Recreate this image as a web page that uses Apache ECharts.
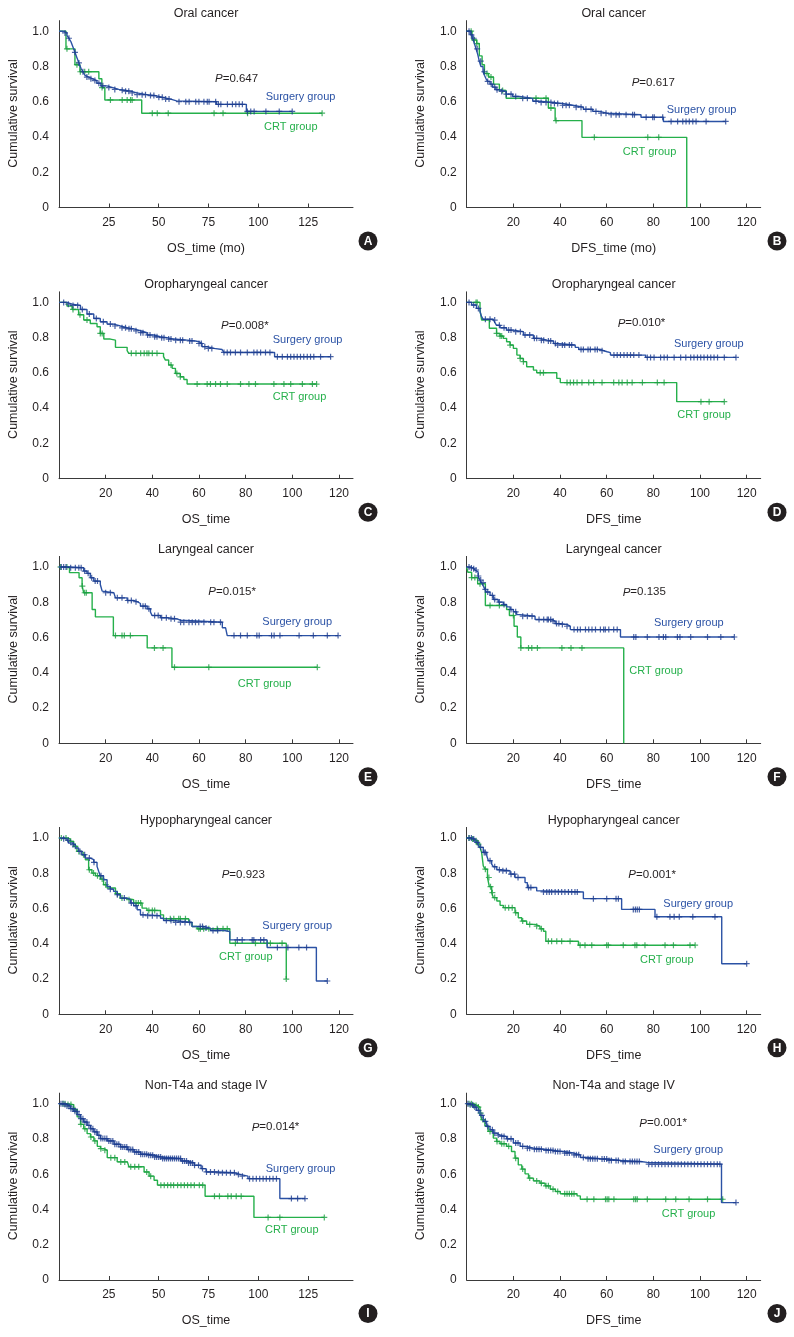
<!DOCTYPE html>
<html><head><meta charset="utf-8">
<script src="https://cdn.jsdelivr.net/npm/echarts@6/dist/echarts.min.js"></script>
<style>html,body{margin:0;padding:0;background:#fff}#c{width:794px;height:1337px}</style>
</head><body><div id="c"></div>
<script>
// ---------- DATA ----------
const panelLetters = ['A','B','C','D','E','F','G','H','I','J'];
const panelTitles = ['Oral cancer','Oral cancer','Oropharyngeal cancer','Oropharyngeal cancer','Laryngeal cancer','Laryngeal cancer','Hypopharyngeal cancer','Hypopharyngeal cancer','Non-T4a and stage IV','Non-T4a and stage IV'];
const xAxisNames = ['OS_time (mo)','DFS_time (mo)','OS_time','DFS_time','OS_time','DFS_time','OS_time','DFS_time','OS_time','DFS_time'];
const pValues = ['0.647','0.617','0.008*','0.010*','0.015*','0.135','0.923','0.001*','0.014*','0.001*'];
const xTicks25 = [25,50,75,100,125];
const xTicks20 = [20,40,60,80,100,120];
const yTicks = [0,0.2,0.4,0.6,0.8,1.0];
const groupNames = ['Surgery group','CRT group'];

// step points [time, survival]
const A_surg = [[0,1],[2,0.99],[4,0.975],[5,0.96],[6,0.94],[7,0.91],[8,0.88],[9,0.85],[10,0.82],[11,0.79],[12,0.77],[13,0.75],[14,0.74],[15,0.73],[17,0.72],[19,0.705],[21,0.69],[24,0.68],[27,0.67],[30,0.665],[33,0.66],[36,0.65],[39,0.64],[44,0.635],[48,0.625],[52,0.615],[56,0.605],[59,0.6],[79,0.585],[94,0.545],[117,0.545]];
const A_surg_cens = [3,5,8,10,12,14,16,18,20,22,25,28,31.7,33.4,35,36.7,39.2,41.7,43.4,45.9,47.6,50.1,51.8,53.5,55.2,60.2,63.6,65.3,68.6,70.2,72.7,74.4,75.3,78.6,80,81.2,84.5,87,88.7,90.4,92,94.5,96.2,97.9,103.8,110.5,117];
const A_crt = [[0,1],[3.5,0.9],[8,0.81],[10.5,0.77],[20,0.73],[21.5,0.68],[23,0.61],[41.5,0.535],[132,0.535]];
const A_crt_cens = [4,9,10.7,12.9,14.9,21.6,25.8,31.7,34.2,35.9,36.7,46.8,49.3,54.8,77.8,82.3,94.6,132];

const B_surg = [[0,1],[1.5,0.98],[2.5,0.96],[3.3,0.93],[4,0.9],[4.7,0.87],[5.4,0.83],[6.1,0.8],[7,0.77],[7.6,0.75],[8.3,0.73],[9,0.715],[10,0.7],[11.1,0.683],[12.5,0.668],[14,0.658],[16.9,0.643],[19.7,0.63],[22.6,0.619],[28.3,0.603],[31,0.596],[37,0.59],[41,0.58],[45.4,0.569],[50,0.557],[54,0.545],[57,0.535],[60,0.526],[74.7,0.512],[84.3,0.488],[111,0.488]];
const B_surg_cens = [1,2,3,4.5,6,7.5,9,10.5,12,13,15,17,19,21,24,26,29.7,31.9,34,36.1,37.6,39,41.1,42.6,44,46.9,49,51.1,53.3,55.4,57.6,59.7,61.9,64,65.4,68.3,71.1,71.9,76.9,79.7,80.4,84,87.6,90.4,92.6,94,95.4,96.9,98.3,102.6,111];
const B_crt = [[0,1],[2.3,0.95],[4.3,0.93],[5.4,0.86],[6.6,0.81],[7.6,0.76],[9.4,0.74],[11.5,0.7],[14,0.664],[16.9,0.62],[35,0.564],[37.9,0.493],[49.4,0.398],[94.3,0]];
const B_crt_cens = [1.9,3.3,4.3,8.7,10.4,15.4,29.7,34,36.1,38.3,54.7,77.6,82.3];

const C_surg = [[0,1],[3.4,0.99],[5.6,0.983],[9.2,0.96],[12,0.934],[14.9,0.909],[17.7,0.89],[20.6,0.877],[23.4,0.866],[26.3,0.856],[29.2,0.85],[32,0.839],[34.9,0.828],[37.7,0.815],[40.6,0.805],[43.4,0.8],[46.3,0.792],[49.2,0.786],[54.9,0.781],[58.5,0.777],[59.9,0.767],[61.3,0.749],[63.5,0.739],[66.4,0.733],[69.9,0.724],[70.6,0.716],[92.4,0.692],[116.4,0.692]];
const C_surg_cens = [2,4,6,8,10,13,16,19,22,24,27,28.5,30,31,33,35,36,38,39,41,42,44,45,47,48,50,52,53,56,57,60,61,62.5,64,65.5,70.7,72.1,73.5,75.6,77.8,80.7,83.5,84.9,86.4,88.5,90.4,93.6,95.7,97.9,99.3,100.7,102.1,103.5,104.9,106.4,107.8,109.2,112.1,116.4];
const C_crt = [[0,1],[3.4,0.98],[5.6,0.96],[8.4,0.93],[10.6,0.9],[13.4,0.88],[16.3,0.862],[17.7,0.824],[19.2,0.792],[22,0.786],[24.2,0.745],[29.2,0.726],[29.9,0.711],[44.8,0.692],[45.6,0.673],[47,0.645],[48.5,0.626],[49.9,0.597],[52,0.578],[53.5,0.563],[54.9,0.537],[110.4,0.537]];
const C_crt_cens = [6,9,12,17.7,18.5,31,33,35,36.5,37.7,38.5,40,42,48,50.5,52,59.2,63.5,64.9,67.1,69.2,72.1,77.8,81.4,84.2,92.1,96.4,99.3,104.3,108.6,110.4];

const D_surg = [[0,1],[2.1,0.985],[4.2,0.966],[5.7,0.947],[6.4,0.919],[7.1,0.904],[11.4,0.9],[12.1,0.885],[12.8,0.87],[14.3,0.856],[17.1,0.843],[20,0.834],[24.3,0.815],[28.6,0.796],[31.5,0.786],[34.3,0.781],[37.2,0.767],[38.6,0.758],[46.5,0.745],[48,0.733],[57.3,0.726],[58.7,0.72],[60.2,0.715],[61.6,0.701],[76.7,0.688],[115.4,0.688]];
const D_surg_cens = [1,3,5,8,10,12,14,16,18,19,21,23,25,27,29,30,32,33,35,36,38,39,41,42,44,45,49,50,52,53,55,56,58,63.1,64.5,65.9,67.4,68.8,70.2,71.6,73.8,77.4,78.8,80.3,83.1,84.6,86,88.9,91.7,93.9,96,97.4,98.9,100.3,101.7,103.2,104.6,106,107.5,110.4,115.4];
const D_crt = [[0,1],[5.7,0.957],[6.4,0.9],[9.7,0.853],[12.8,0.824],[14.3,0.809],[15.7,0.796],[17.1,0.777],[18.6,0.758],[20,0.739],[21.5,0.701],[22.9,0.682],[24.3,0.664],[25.7,0.635],[28.6,0.616],[30,0.601],[38.6,0.569],[40.1,0.545],[90,0.437],[110.4,0.437]];
const D_crt_cens = [4,4.5,12.8,14.3,15,18.6,22.9,24.3,31.5,32.9,43,44.4,45.8,47.3,49.4,52.3,54.4,58,63,65.2,66.6,68.8,70.9,75.3,81.7,84.6,100.4,103.9,110.4];

const E_surg = [[0,1],[4.9,0.996],[10.6,0.977],[12,0.964],[13.4,0.939],[14.9,0.92],[17.7,0.901],[18.5,0.863],[19.2,0.854],[23.5,0.844],[24.2,0.825],[29.2,0.81],[32,0.803],[33.5,0.793],[34.9,0.778],[37.8,0.763],[39.2,0.744],[39.9,0.725],[43.5,0.712],[46.4,0.706],[50.6,0.698],[52.1,0.687],[70,0.655],[71.4,0.645],[72.1,0.611],[119.6,0.611]];
const E_surg_cens = [1,2,3,5,7,8.5,9.5,11,12.5,14,15.5,16.5,20,22,25,27,29.5,31,33,36,37,38.5,41,42.5,44,46,48,49.5,52.1,53.5,55.7,57.1,58.5,59.9,62.1,65,66.4,69.2,75,77.8,80.7,84.8,85.8,91.1,92.2,94.7,102.9,109,115,119.6];
const E_crt = [[0,1],[4.5,0.968],[8.6,0.939],[9.9,0.892],[10.6,0.854],[14.2,0.759],[15.6,0.717],[23.3,0.611],[37.8,0.541],[48.4,0.431],[110.7,0.431]];
const E_crt_cens = [0.6,3.4,10,11,11.7,24.2,27,28,30.6,40.9,44.6,49.5,64.2,110.7];

const F_surg = [[0,1],[1.3,0.995],[2.8,0.99],[3.5,0.983],[4.2,0.972],[4.9,0.949],[5.7,0.926],[6.4,0.911],[7.1,0.892],[7.8,0.873],[8.5,0.858],[10,0.839],[11.4,0.816],[13.5,0.801],[15.7,0.787],[17.1,0.774],[18.6,0.759],[20,0.746],[21.4,0.73],[22.8,0.721],[29.3,0.702],[36.5,0.693],[37.9,0.679],[40.1,0.674],[42.9,0.664],[44.4,0.645],[65.9,0.603],[114.7,0.603]];
const F_surg_cens = [1,2,3,4,5,6,7,8,9,11,12,14,16,19,21,24,26,28,31,33,34.5,35,36,37,38.5,39.5,41,43,46,47.5,48.7,50.9,52.3,53.7,55.2,57.3,58.7,59.4,60.9,63,64.5,71.6,72.5,77.4,82.4,84.3,85.3,90.3,91.4,96,103.2,108.9,114.7];
const F_crt = [[0,1],[0.5,0.97],[2.1,0.94],[4.7,0.905],[8,0.782],[17.1,0.759],[18.3,0.725],[20.3,0.664],[21.7,0.603],[23.2,0.541],[67.3,0]];
const F_crt_cens = [2.1,3.5,5.7,10,14,20,23.2,26.5,27.9,30.3,40.8,44.7,49.4];

const G_surg = [[0,1],[2,0.996],[3.4,0.987],[4.1,0.972],[5.6,0.962],[7,0.943],[8.4,0.924],[9.8,0.905],[11.3,0.886],[13.4,0.877],[14.9,0.862],[16.3,0.839],[17,0.811],[17.7,0.786],[19.1,0.763],[20.6,0.725],[22,0.71],[23.4,0.697],[24.9,0.678],[26.3,0.659],[29.2,0.65],[30.6,0.631],[32,0.616],[33.5,0.593],[34.9,0.564],[37.7,0.559],[43.5,0.545],[44.8,0.532],[49.2,0.521],[57,0.498],[62,0.489],[64.9,0.475],[70.7,0.47],[73.2,0.422],[89.2,0.379],[110.3,0.189],[115,0.189]];
const G_surg_cens = [2,4,6,9,11,13,15,18,22,25,28,31,33,36,38,40,42,46,48,50,52,54,56,60.5,61.5,63,66,68,76.4,78.5,82.8,83.5,86.4,87.8,93.6,98.1,102.8,106.1,115];
const G_crt = [[0,1],[3.4,0.995],[4.8,0.981],[6.3,0.953],[7.7,0.924],[9.8,0.905],[11.3,0.877],[12.7,0.82],[14.1,0.801],[15.6,0.786],[17.7,0.767],[19.1,0.735],[20.6,0.716],[24.2,0.684],[26.3,0.659],[28.5,0.65],[32,0.631],[35.6,0.602],[37.7,0.589],[43.5,0.564],[44.8,0.542],[55.6,0.521],[57,0.498],[59.2,0.485],[73.2,0.403],[97.4,0.2]];
const G_crt_cens = [1,3,5,7,8.5,10.5,13,14.8,16.5,18.5,20,25,27,30,33,34,35,38.5,40,41,47.7,49.2,51.3,52,54.2,59.9,60.6,62,64.2,67.8,70.3,72.1,75.6,84.2,89.2,90.6,95.6,97.4];

const H_surg = [[0,1],[2.1,0.994],[3.6,0.975],[5,0.96],[5.7,0.947],[7.1,0.918],[8.6,0.899],[9.3,0.871],[10.7,0.852],[11.4,0.837],[12.9,0.82],[14.3,0.814],[18.6,0.795],[20.7,0.776],[25,0.747],[26,0.719],[30,0.7],[32.9,0.694],[50,0.656],[66.4,0.595],[80.7,0.553],[109.3,0.287],[120,0.287]];
const H_surg_cens = [1,2,3,4.5,6,7.5,8,10,12,14,15.5,17,19,20.5,22,26.5,27.5,32.9,34.3,35.4,36.4,37.9,39.3,40.7,42.1,43.6,45,46.4,47.4,54.3,60,64,65,71.4,72.3,73.1,74,81.5,87.1,88.9,91.1,96.9,106.4,120];
const H_crt = [[0,1],[1.5,0.994],[2.9,0.985],[4.3,0.966],[5.7,0.947],[6.4,0.918],[7.1,0.842],[7.9,0.823],[8.9,0.776],[9.7,0.724],[10.7,0.69],[11.4,0.662],[12.9,0.643],[14.3,0.618],[15.7,0.605],[20.7,0.576],[22.1,0.548],[23.6,0.529],[25.7,0.51],[29.3,0.5],[31.4,0.485],[32.9,0.471],[33.9,0.414],[47.9,0.392],[97.9,0.392]];
const H_crt_cens = [1,2.5,4,5,8,9.5,10.2,11,12,16.5,18,19.5,21,24,27,30,32,35,36.4,38.6,40.7,44.3,48.6,50.7,53.6,60,60.7,67.1,72.1,72.9,76.4,85,88.6,95.7,97.9];

const I_surg = [[0,1],[2.4,0.996],[4,0.987],[5.7,0.972],[7.4,0.957],[9.1,0.938],[10.8,0.915],[12.4,0.896],[14.1,0.877],[15.8,0.858],[17.5,0.84],[19.2,0.821],[20.8,0.802],[24.2,0.789],[27.6,0.77],[30.9,0.755],[34.3,0.74],[37.6,0.726],[41,0.713],[44.4,0.708],[47.7,0.698],[51.1,0.689],[61.2,0.675],[64.5,0.664],[67.9,0.651],[71.3,0.632],[73.8,0.613],[79.7,0.608],[88.1,0.598],[91.4,0.589],[94.8,0.575],[110.8,0.462],[123.4,0.462]];
const I_surg_cens = [1,2,3,4,5,6,7,8,9,10,11,12,13,14,15,16,17,18,19,20,21,22,23,24,25,26,27,28,29,30,31,32,33,34,35,36,37,38,39,40,41,42,43,44,45,46,47,48,49,50,51,52,53,54,55,56,57,58,59,60,61,62,63,64,65,66,67,68,70,72,74,76,78,80,82,84,86,88,90,92,95.6,97.3,99,100.7,102.4,104,105.7,107.4,109.1,116.6,119.7,123.4];
const I_crt = [[0,1],[4,0.995],[7.4,0.966],[9.1,0.925],[10.8,0.883],[12.4,0.858],[14.1,0.83],[15.8,0.811],[17.5,0.789],[19.2,0.758],[20.8,0.745],[22.5,0.736],[24.2,0.694],[29.2,0.67],[34.3,0.66],[35.1,0.642],[42.7,0.613],[45.2,0.589],[47.7,0.566],[49.4,0.538],[73.3,0.475],[97.8,0.355],[133.1,0.355]];
const I_crt_cens = [2,3,4.5,6,8,11,13,16,18,21,23,26,28,31,33,36,38,40,44,46,51.1,52.8,54.5,56.1,57.5,59.5,61.2,62.9,64.5,66.2,67.9,70.4,72.1,78,80.5,84.7,86.4,88.9,91.4,104.9,110.8,133.1];

const J_surg = [[0,1],[1.3,0.994],[2.8,0.981],[4.2,0.962],[5.7,0.934],[7.1,0.9],[8.5,0.871],[10,0.852],[11.4,0.833],[12.8,0.822],[14.3,0.814],[17.1,0.801],[20,0.777],[22.9,0.758],[25.7,0.748],[28.6,0.742],[32.9,0.735],[37.2,0.729],[41.5,0.72],[45.8,0.71],[48.7,0.695],[51.6,0.688],[57.3,0.686],[60.2,0.678],[65.9,0.672],[74.5,0.667],[77.4,0.657],[109.2,0.439],[115.4,0.439]];
const J_surg_cens = [0.5,1.5,2.5,3.5,5,6.5,8,9,11,12,13.5,15,16,17.5,19,21,22,24,26,27,29,30,31,32,34,35,36,37,38,39,40,42,43,44,46,47,48,50,52,53,54,55,56,58,59,60,61,62,64,65,67,68,70,71,72,73,74,78,79.4,80.8,82.2,83.6,85,86.4,87.8,89.2,90.6,92,93.4,94.8,96.2,97.6,99,100.4,101.8,103.2,104.6,106,107.4,108.5,115.4];
const J_crt = [[0,1],[2.8,0.99],[4.2,0.981],[5.7,0.947],[6.4,0.909],[7.8,0.875],[9.2,0.843],[11.4,0.805],[12.8,0.786],[14.3,0.773],[17.1,0.758],[19.2,0.729],[20.7,0.691],[22.1,0.653],[23.6,0.629],[25,0.602],[26.5,0.578],[28.6,0.562],[31.4,0.549],[33.6,0.534],[35.8,0.515],[38,0.502],[40.1,0.489],[47.3,0.477],[48.7,0.458],[110,0.458]];
const J_crt_cens = [1,2,3,4,5,6,7,10,13,15,16,18,21,24,27,30,32,34,35,37,39,42,43,44,45,46,51.6,54.5,59.5,60.2,60.9,63.1,71.6,72.4,73.1,77.4,85.3,89.6,95.3,103.2,109.7];

const curves = [
  [A_surg,A_surg_cens,A_crt,A_crt_cens],[B_surg,B_surg_cens,B_crt,B_crt_cens],
  [C_surg,C_surg_cens,C_crt,C_crt_cens],[D_surg,D_surg_cens,D_crt,D_crt_cens],
  [E_surg,E_surg_cens,E_crt,E_crt_cens],[F_surg,F_surg_cens,F_crt,F_crt_cens],
  [G_surg,G_surg_cens,G_crt,G_crt_cens],[H_surg,H_surg_cens,H_crt,H_crt_cens],
  [I_surg,I_surg_cens,I_crt,I_crt_cens],[J_surg,J_surg_cens,J_crt,J_crt_cens]
];

// ---------- LAYOUT / STYLE ----------
const FONT = '"Liberation Sans", Arial, Helvetica, sans-serif';
const INK = '#231f20';
const BLUE = '#2b52a5', BLUE_M = '#1d3c8f';
const GREEN = '#25b04b', GREEN_M = '#1d9f42';
const colLeft = [59, 466.7];
const plotW = 294;
const rowY0 = [207.5, 478.7, 743.3, 1014.3, 1280];
const unitH = 176.3;
const yMax = 1.06;
const xMaxFor = i => (i === 0 || i === 8) ? 147.5 : 126;
const pPos = [[215,79],[631.7,82.7],[221,325.7],[617.7,323.3],[208.3,591.7],[622.7,592.3],[221.7,875],[628.3,875],[251.7,1127.3],[639.3,1123.3]];
const surgPos = [[265.7,96.7],[666.7,110],[272.7,340],[674,344],[262.3,621.7],[654,622.7],[262.3,926],[663.3,904],[265.7,1169],[653.3,1150]];
const crtPos = [[264,127.3],[622.7,151.7],[272.7,396.7],[677.3,415],[237.7,684.3],[629.3,671],[219,957.3],[640,960],[265,1230],[661.7,1214]];
const circleX = [368, 777];

function survAt(curve, t) {
  let s = curve[0][1];
  for (const p of curve) { if (p[0] <= t) s = p[1]; else break; }
  return s;
}
const PLUS = 'path://M4,0H6V4H10V6H6V10H4V6H0V4H4Z';

const grids = [], xAxes = [], yAxes = [], series = [], graphics = [];
for (let i = 0; i < 10; i++) {
  const col = i % 2, row = Math.floor(i / 2);
  const left = colLeft[col], y0 = rowY0[row];
  const h = yMax * unitH;
  grids.push({left: left, top: y0 - h, width: plotW, height: h, outerBoundsMode: 'none', containLabel: false});
  const is25 = (i === 0 || i === 8);
  const ticks = is25 ? xTicks25 : xTicks20;
  xAxes.push({
    type: 'value', gridIndex: i, min: 0, max: xMaxFor(i), interval: is25 ? 25 : 20,
    axisLine: {show: true, onZero: false, lineStyle: {color: '#3a3a3a', width: 1}},
    axisTick: {show: true, inside: true, length: 4, lineStyle: {color: '#3a3a3a', width: 1}, customValues: ticks},
    axisLabel: {show: true, margin: 9, fontSize: 12, fontFamily: FONT, color: INK, customValues: ticks,
      formatter: v => ticks.indexOf(v) >= 0 ? String(v) : ''},
    splitLine: {show: false}
  });
  yAxes.push({
    type: 'value', gridIndex: i, min: 0, max: yMax, interval: 0.2,
    axisLine: {show: true, lineStyle: {color: '#3a3a3a', width: 1}},
    axisTick: {show: false},
    axisLabel: {show: true, margin: 10, fontSize: 12, fontFamily: FONT, color: INK, customValues: yTicks,
      formatter: v => v > 1.001 ? '' : (v === 0 ? '0' : v.toFixed(1))},
    splitLine: {show: false}
  });
  const [sCurve, sCens, cCurve, cCens] = curves[i];
  series.push({type: 'line', xAxisIndex: i, yAxisIndex: i, step: 'end', data: cCurve, showSymbol: false,
    lineStyle: {color: GREEN, width: 1.4}, z: 2, silent: true});
  series.push({type: 'scatter', xAxisIndex: i, yAxisIndex: i, data: cCens.map(t => [t, survAt(cCurve, t)]),
    symbol: PLUS, symbolSize: 6, itemStyle: {color: GREEN_M}, z: 3, silent: true});
  series.push({type: 'line', xAxisIndex: i, yAxisIndex: i, step: 'end', data: sCurve, showSymbol: false,
    lineStyle: {color: BLUE, width: 1.4}, z: 4, silent: true});
  series.push({type: 'scatter', xAxisIndex: i, yAxisIndex: i, data: sCens.map(t => [t, survAt(sCurve, t)]),
    symbol: PLUS, symbolSize: 6, itemStyle: {color: BLUE_M}, z: 5, silent: true});

  // texts
  graphics.push({type: 'text', x: left + plotW / 2, y: y0 - unitH - 17.7, z: 10,
    style: {text: panelTitles[i], fontSize: 12.5, fontFamily: FONT, fill: INK, textAlign: 'center', textVerticalAlign: 'middle'}});
  graphics.push({type: 'text', x: left - 45.7, y: y0 - 94, rotation: Math.PI / 2, z: 10,
    style: {text: 'Cumulative survival', fontSize: 12.5, fontFamily: FONT, fill: INK, textAlign: 'center', textVerticalAlign: 'middle'}});
  graphics.push({type: 'text', x: left + plotW / 2, y: y0 + 41, z: 10,
    style: {text: xAxisNames[i], fontSize: 12.5, fontFamily: FONT, fill: INK, textAlign: 'center', textVerticalAlign: 'middle'}});
  graphics.push({type: 'text', x: pPos[i][0], y: pPos[i][1], z: 10,
    style: {text: '{i|P}{n|=' + pValues[i] + '}', fontSize: 11.5, fontFamily: FONT, fill: INK, textAlign: 'left', textVerticalAlign: 'middle',
      rich: {i: {fontStyle: 'italic', fontSize: 11.5, fontFamily: FONT, fill: INK}, n: {fontSize: 11.5, fontFamily: FONT, fill: INK}}}});
  graphics.push({type: 'text', x: surgPos[i][0], y: surgPos[i][1], z: 10,
    style: {text: groupNames[0], fontSize: 11, fontFamily: FONT, fill: BLUE, textAlign: 'left', textVerticalAlign: 'middle'}});
  graphics.push({type: 'text', x: crtPos[i][0], y: crtPos[i][1], z: 10,
    style: {text: groupNames[1], fontSize: 11, fontFamily: FONT, fill: GREEN, textAlign: 'left', textVerticalAlign: 'middle'}});
  graphics.push({type: 'circle', shape: {cx: circleX[col], cy: y0 + 33.5, r: 9.5}, style: {fill: INK}, z: 10});
  graphics.push({type: 'text', x: circleX[col], y: y0 + 34, z: 11,
    style: {text: panelLetters[i], fontSize: 12, fontWeight: 'bold', fontFamily: FONT, fill: '#fff', textAlign: 'center', textVerticalAlign: 'middle'}});
}

const chart = echarts.init(document.getElementById('c'), null, {renderer: 'canvas', width: 794, height: 1337});
chart.setOption({
  animation: false,
  backgroundColor: '#ffffff',
  grid: grids, xAxis: xAxes, yAxis: yAxes, series: series,
  graphic: {elements: graphics}
});
</script>
</body></html>
